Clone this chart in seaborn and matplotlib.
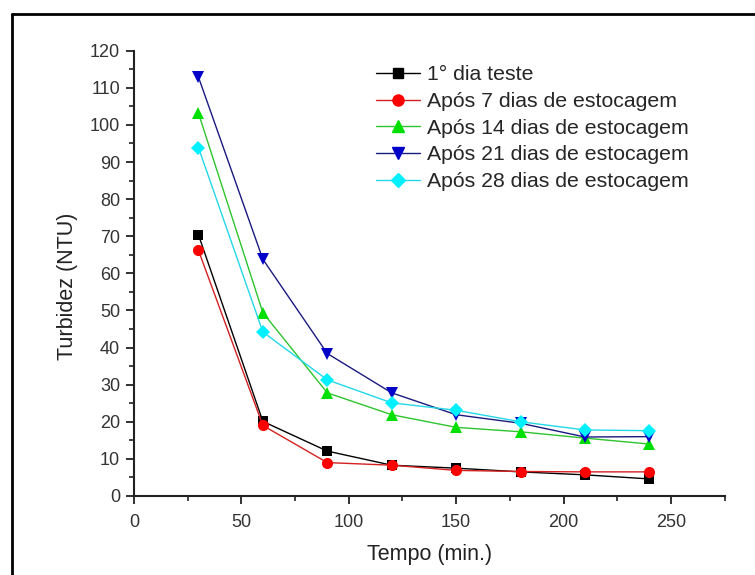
import matplotlib
matplotlib.use("Agg")
import matplotlib.pyplot as plt
from matplotlib.lines import Line2D
import seaborn as sns
import pandas as pd

tempo = [30, 60, 90, 120, 150, 180, 210, 240]
series_names = ["1° dia teste", "Após 7 dias de estocagem", "Após 14 dias de estocagem",
                "Após 21 dias de estocagem", "Após 28 dias de estocagem"]
dia1 = [70.4, 20.1, 12.1, 8.3, 7.5, 6.5, 5.7, 4.6]
dias7 = [66.2, 19.0, 9.0, 8.3, 6.9, 6.6, 6.5, 6.5]
dias14 = [103.2, 49.4, 27.8, 21.9, 18.5, 17.3, 15.6, 14.0]
dias21 = [112.9, 63.8, 38.4, 27.8, 21.9, 19.6, 15.9, 16.0]
dias28 = [93.9, 44.2, 31.3, 25.1, 23.1, 20.0, 17.8, 17.6]

all_vals = [dia1, dias7, dias14, dias21, dias28]
rows = []
for name, vals in zip(series_names, all_vals):
    for t, v in zip(tempo, vals):
        rows.append({"Tempo": t, "Turbidez": v, "Serie": name})
df = pd.DataFrame(rows)

sns.set_style("ticks")
plt.rcParams['font.family'] = ['Liberation Sans', 'DejaVu Sans']

line_colors = ["#000000", "#d42020", "#2ec42e", "#1a1a80", "#22d8e8"]
marker_colors = ["#000000", "#ff0000", "#00e000", "#0000c8", "#00f0ff"]
markers = ["s", "o", "^", "v", "D"]
msizes = [7, 8, 8, 8, 7]

fig = plt.figure(figsize=(7.55, 5.75), dpi=100)
ax = fig.add_axes([0.1775, 0.1374, 0.9597 - 0.1775, 0.9118 - 0.1374])

sns.lineplot(data=df, x="Tempo", y="Turbidez", hue="Serie", style="Serie",
             palette=dict(zip(series_names, line_colors)),
             markers=dict(zip(series_names, markers)), dashes=False,
             linewidth=1.0, markersize=8, markeredgewidth=0, ax=ax, legend=False)

for ln, mc, ms in zip(ax.lines, marker_colors, msizes):
    ln.set_markerfacecolor(mc)
    ln.set_markeredgecolor(mc)
    ln.set_markersize(ms)

ax.set_xlim(0, 275)
ax.set_ylim(0, 120)
ax.set_xticks([0, 50, 100, 150, 200, 250])
ax.set_xticks([25, 75, 125, 175, 225, 275], minor=True)
ax.set_yticks(range(0, 121, 10))
ax.set_yticks(range(5, 120, 10), minor=True)
for s in ["top", "right"]:
    ax.spines[s].set_visible(False)
for s in ["left", "bottom"]:
    ax.spines[s].set_linewidth(1.5)
    ax.spines[s].set_color("#222222")
ax.tick_params(which="major", direction="out", length=6, width=1.3, color="#222222",
               labelsize=13, labelcolor="#333333")
ax.tick_params(axis="x", which="major", pad=7)
ax.tick_params(axis="y", which="major", pad=4)
ax.tick_params(which="minor", direction="out", length=3.5, width=1.2, color="#222222")
ax.set_xlabel("Tempo (min.)", fontsize=15.5, color="#222222", labelpad=9)
ax.set_ylabel("Turbidez (NTU)", fontsize=15.5, color="#222222")
ax.yaxis.set_label_coords(-0.095, 0.47)
ax.grid(False)

handles = [Line2D([], [], color=lc, marker=m, markerfacecolor=mc, markeredgecolor=mc,
                  markersize=ms, linewidth=1.0)
           for lc, mc, m, ms in zip(line_colors, marker_colors, markers, msizes)]
ax.legend(handles, series_names, loc="upper left", bbox_to_anchor=(0.395, 0.986),
          frameon=False, fontsize=15.3, handlelength=2.1, handletextpad=0.3,
          labelspacing=0.36, borderaxespad=0)

fig.add_artist(Line2D([12 / 755, 12 / 755], [0, 1 - 14 / 575], transform=fig.transFigure,
                      color="black", linewidth=2))
fig.add_artist(Line2D([12 / 755, 1], [1 - 14 / 575, 1 - 14 / 575], transform=fig.transFigure,
                      color="black", linewidth=2))

fig.savefig("out.png", dpi=100, facecolor="white")
